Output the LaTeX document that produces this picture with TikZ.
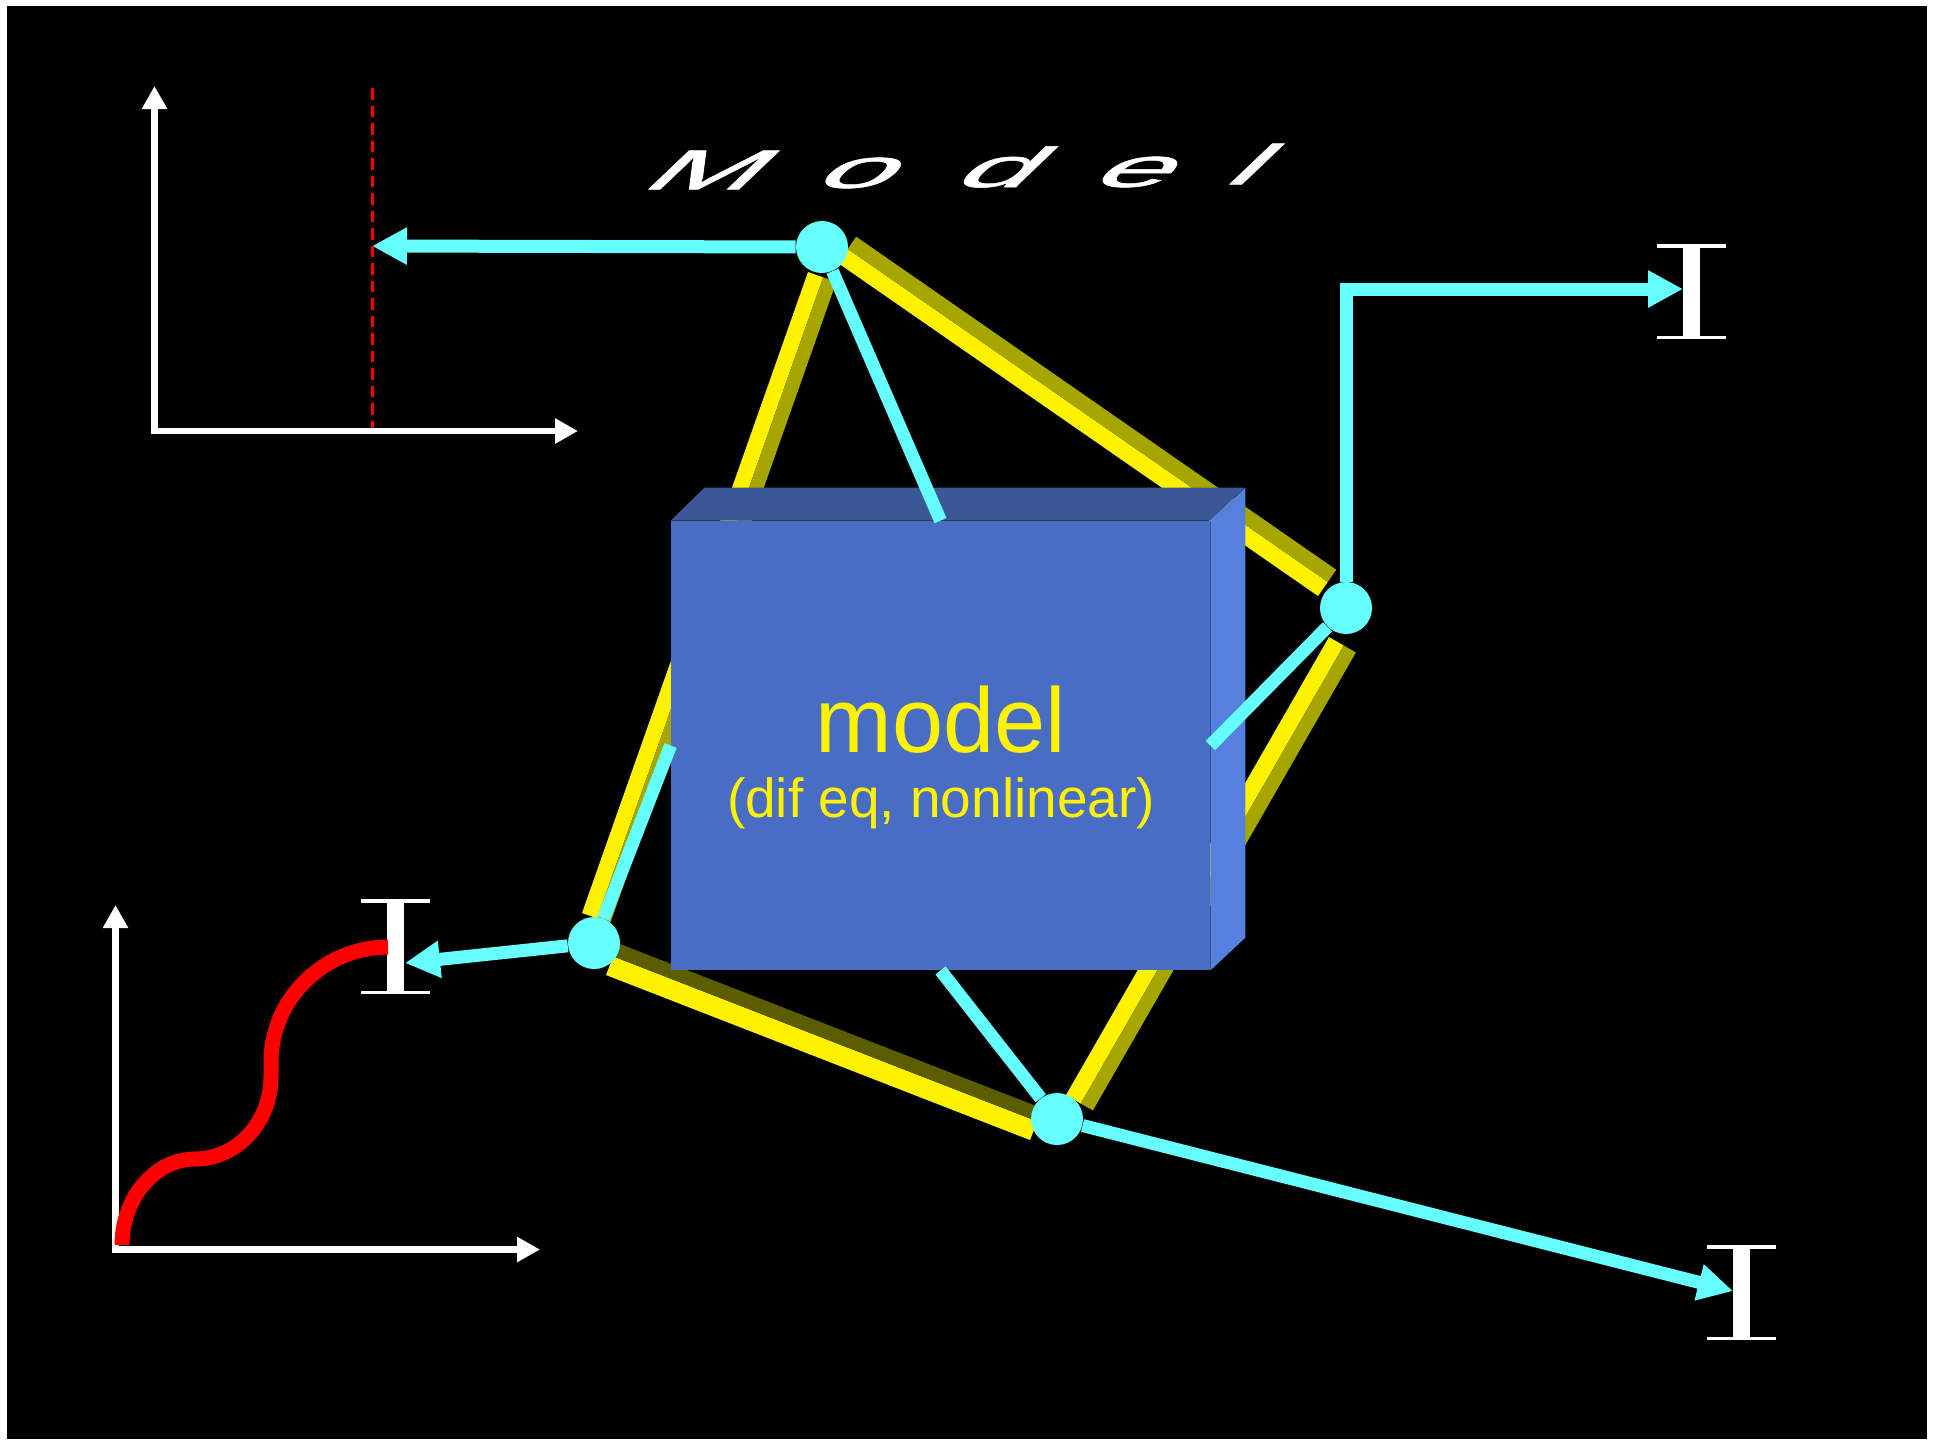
\documentclass[tikz,border=0pt]{standalone}
\usepackage{fontspec}
\setmainfont{Liberation Sans}
\newfontfamily\titlefont[FakeBold=0.9]{Liberation Sans}
\usetikzlibrary{arrows.meta}

\definecolor{cyanline}{RGB}{102,255,255}
\definecolor{barside}{RGB}{166,166,0}
\definecolor{bardark}{RGB}{92,92,0}
\definecolor{boxfront}{RGB}{74,109,196}
\definecolor{boxtop}{RGB}{59,88,150}
\definecolor{boxright}{RGB}{85,128,221}

\tikzset{
  flow/.style={cyanline, line width=6.5pt},
  flowarrow/.style={flow, -{Triangle[length=17.5pt,width=17.5pt]}},
  joint/.style={circle, fill=cyanline, minimum size=26pt, inner sep=0pt},
  axisline/.style={white, line width=3.2pt, line cap=rect, -{Triangle[length=11.5pt,width=12pt]}},
  letter/.style={white, font=\titlefont\fontsize{28}{30}\selectfont, inner sep=0pt, cm={2.4,0,1.05,1,(0,0)}},
}

\begin{document}
\begin{tikzpicture}[x=0.5pt, y=-0.5pt]
	\useasboundingbox (0,0) rectangle (1946,1442);
	\fill[white] (0,0) rectangle (1946,1442);
	\fill[black] (7,6) rectangle (1927,1439);
	% yellow bars behind the model box
	\fill[yellow] (808,272) -- (582,913) -- (597.1,918.3) -- (823.1,277.3) -- cycle;
	\fill[barside] (823.1,277.3) -- (597.1,918.3) -- (610.3,923) -- (836.3,282) -- cycle;
	\fill[yellow] (838,263) -- (1318,596) -- (1327.7,582) -- (847.7,249) -- cycle;
	\fill[barside] (847.7,249) -- (1327.7,582) -- (1336.2,569.7) -- (856.2,236.7) -- cycle;
	\fill[yellow] (1329,637) -- (1066,1095) -- (1080.7,1103.5) -- (1343.7,645.5) -- cycle;
	\fill[barside] (1343.7,645.5) -- (1080.7,1103.5) -- (1092.9,1110.4) -- (1355.9,652.4) -- cycle;
	\fill[yellow] (606,975) -- (1030,1140) -- (1037.3,1121.4) -- (613.3,956.4) -- cycle;
	\fill[bardark] (613.3,956.4) -- (1037.3,1121.4) -- (1042.3,1108.3) -- (618.3,943.3) -- cycle;
	% the box
	\node[fill=boxfront, minimum width=269.5pt, minimum height=224.5pt, inner sep=0pt] (mbox) at (940.5,745.5) {};
	\fill[boxtop] (mbox.north west) -- ++(34,-33) -- ++(540,0) -- (mbox.north east) -- cycle;
	\fill[boxright] (mbox.north east) -- ++(35,-33) -- ++(0,450) -- (mbox.south east) -- cycle;
	\node[text=yellow, font=\fontsize{46}{50}\selectfont, anchor=base] (mname) at (941,752) {model};
	\node[text=yellow, font=\fontsize{27.5}{30}\selectfont, anchor=base] (mdesc) at (941,817) {(dif eq, nonlinear)};
	% joints
	\node[joint] (ntop) at (822,247) {};
	\node[joint] (nright) at (1346,608) {};
	\node[joint] (nbot) at (1057,1119) {};
	\node[joint] (nleft) at (594,943) {};
	\coordinate (tipA) at (372,246);
	\coordinate (tipB) at (1683,289);
	\coordinate (tipC) at (405,963);
	\coordinate (tipD) at (1733,1291);
	\draw[flowarrow] (ntop) -- (tipA);
	\draw[flow] (ntop) -- (mbox.north);
	\draw[flowarrow] (nright) |- (tipB);
	\draw[flow] (nright) -- (mbox.east);
	\draw[flowarrow] (nleft) -- (tipC);
	\draw[flow] (nleft) -- (mbox.west);
	\draw[flow] (nbot) -- (mbox.south);
	\draw[flowarrow] (nbot) -- (tipD);
	% error bars
	\foreach \cx/\yt/\yb in {1691.5/244/339, 395.5/899/994, 1741/1245/1340} {
		\fill[white] (\cx-8.5,\yt) rectangle (\cx+8.5,\yb);
		\fill[white] (\cx-34.5,\yt) rectangle (\cx+34.5,\yt+3.5);
		\fill[white] (\cx-34.5,\yb-3.5) rectangle (\cx+34.5,\yb);
	}
	% upper plot
	\coordinate (oA) at (154.5,431);
	\draw[axisline] (oA) -- (154.5,86);
	\draw[axisline] (oA) -- (578,431);
	\draw[red, line width=1.5pt, dash pattern=on 5.75pt off 3pt] (372,88) -- (372,428);
	% lower plot
	\coordinate (oB) at (115.5,1249.5);
	\draw[axisline] (oB) -- (115.5,905);
	\draw[axisline] (oB) -- (540,1249.5);
	\draw[red, line width=7.5pt] (122,1245) .. controls (122,1198) and (155,1159) .. (195,1159)
		.. controls (237,1159) and (271,1122) .. (271,1077) -- (271,1062)
		.. controls (271,999) and (324,947) .. (388,947);
	% title
	\foreach \ch/\px/\py in {M/714/170, o/863/173, d/1008/167, e/1140/172, l/1257/164}
		\node[letter] at (\px,\py) {\ch};
\end{tikzpicture}
\end{document}
